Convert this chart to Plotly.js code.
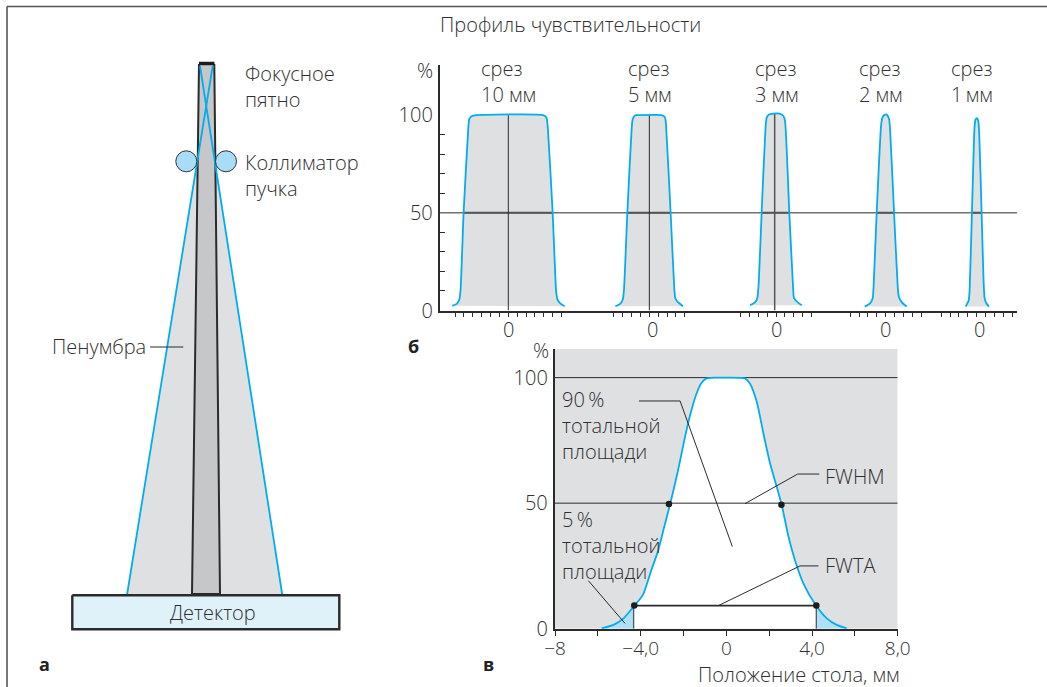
<!DOCTYPE html>
<html><head><meta charset="utf-8">
<script src="https://cdn.plot.ly/plotly-3.0.1.min.js"></script>
<style>html,body{margin:0;padding:0;background:#fff}#c{width:1047px;height:687px}</style>
</head><body><div id="c"></div>
<script>
// ---- Panel а: schematic, values in drawing units ----
const frameX = [7, 7, null, 7, 1047];
const frameY = [687, 6.5, null, 6.5, 6.5];
const penumbraX = [206.3, 127, 282.3];
const penumbraY = [105, 595, 595];
const penumbraTopX = [200, 212.7, 206.3];
const penumbraTopY = [66, 66, 105];
const umbraX = [199, 195.7, 192, 220, 217.3, 214.3];
const umbraY = [64, 340, 594, 594, 340, 64];
const beamAX = [212.7, 127];
const beamAY = [66, 595];
const beamBX = [200, 282.3];
const beamBY = [66, 595];
const focalX = [199, 214.5];
const focalY = [63.5, 63.5];
const collimatorX = [186.3, 226];
const collimatorY = [161.3, 161.3];
const detectorX = [72.3, 339.3, 339.3, 72.3, 72.3];
const detectorY = [595.3, 595.3, 629.3, 629.3, 595.3];
const penumbraLeaderX = [150, 183.3];
const penumbraLeaderY = [347, 347];

// ---- Panel б: slice profiles ----
const sliceLabels = ['10 мм', '5 мм', '3 мм', '2 мм', '1\u2009мм'];
const sliceCenters = [0, 15.9, 30.18, 42.55, 52.8];
const sliceTickSpan = [6, 4, 4, 4, 4];
const sliceZeroLabelMm = [0, 16.23, 30.27, 42.58, 53.13];
const sliceLineCenters = [0, 15.9, 30.03];
const sliceLineTops = [100, 100, 100.8];
const profile10mm = [-6.32,-5.83,-5.53,-5.38,-5.04,-4.5,-4.4,-4.14,-3.65,3.95,4.32,4.47,5,5.38,5.53,5.83,6.35];
const profile10v = [2.4,3.4,5.5,10.6,50,94,98,99.5,100,100,98.5,92.5,50,10.6,5.8,3.8,2.2];
const profile5mm = [-3.83,-3.3,-3.0,-2.86,-2.48,-2,-1.88,-1.58,-1.2,1.39,1.77,1.88,2.4,2.82,2.93,3.23,3.8];
const profile5v = [2.2,3.4,5.5,10.6,50,92.5,98,100,100,100,98.8,95,50,10.6,6.3,4.3,2.2];
const profile3mm = [-2.93,-2.37,-2.11,-1.95,-1.62,-1.17,-1.05,-0.79,-0.3,0.38,0.83,1.02,1.5,1.92,2.03,2.41,2.9];
const profile3v = [2.7,4.1,6.3,14,50,94.4,98.8,100.3,100.8,100.8,99.6,97,50,12.3,6.3,4.3,2.7];
const profile2mm = [-2.37,-1.77,-1.47,-1.35,-1.02,-0.53,-0.38,-0.08,0.11,0.38,0.49,0.94,1.35,1.47,1.8,2.37];
const profile2v = [2,3.7,6.3,14,50,94.4,98.8,100.3,100.3,97.9,92.8,50,12.3,7.2,4.3,2];
const profile1mm = [-1.24,-0.9,-0.79,-0.53,-0.23,-0.11,0.04,0.19,0.3,0.56,0.79,0.9,1.09,1.39];
const profile1v = [2,5.1,10.6,50,94.4,97.9,98.5,97,89.4,50,14,6.3,3.7,2];
const halfMaxLeftMm = [-5.04, -2.48, -1.62, -1.02, -0.53];
const halfMaxRightMm = [5, 2.4, 1.5, 0.94, 0.56];
const panelBYTicks = [0, 50, 100];
const panelBYMinor = [10, 20, 30, 40, 60, 70, 80, 90];

// ---- Panel в: sensitivity profile ----
const tableMm = [-5.82,-5.27,-4.8,-4.29,-3.9,-3.5,-3.2,-2.9,-2.63,-2.27,-1.96,-1.73,-1.42,-1.18,-0.95,-0.56,-0.17,0,0.87,1.1,1.42,1.73,2.04,2.35,2.58,2.9,3.2,3.6,4.19,4.69,5.15,5.62];
const tableV = [0.1,1.5,4.1,9.2,13.4,23.4,30.7,40.6,49.5,62.5,75.2,83.8,93,97.7,99.6,100,100,100,99.7,97.7,90.4,77.8,65.9,56.6,49.5,36.7,27.4,18,9.2,4.1,1.5,0.1];
const tailLeftMm = [-5.82,-5.27,-4.8,-4.29,-4.33,-4.33];
const tailLeftV = [0.1,1.5,4.1,9.2,9.2,0];
const tailRightMm = [4.19,4.69,5.15,5.62,4.19];
const tailRightV = [9.2,4.1,1.5,0.1,0];
const fwhmDotsMm = [-2.68, 2.57];
const fwhmDotsV = [49.7, 49.4];
const fwtaDotsMm = [-4.3, 4.2];
const fwtaDotsV = [9.2, 9.2];
const fwtaLineMm = [-4.3, 4.2];
const fwtaLineV = [9.2, 9.2];
const dropLeftMm = [-4.33, -4.33];
const dropRightMm = [4.2, 4.2];
const dropV = [0, 9.2];
const leader90Mm = [-4.08,-2.16,0.28];
const leader90V = [90.7,90.7,32.7];
const leaderHalfMm = [0.87,3.33,4.34];
const leaderHalfV = [49.8,61.6,61.6];
const leaderFwtaMm = [-0.37,3.44,4.3];
const leaderFwtaV = [9.2,25,25];
const leader5Mm = [-6.44,-4.73];
const leader5V = [19.1,2.1];
const panelCXTicks = [-8,-6,-4,-2,0,2,4,6,8];
const panelCXLabels = ['−8','','−4,0','','0','','4,0','','8,0'];
const panelCYTicks = [0, 50, 100];

const W = 1047, H = 687;
const FONT = '"Open Sans", "Noto Sans", sans-serif';
const INK = '#2f2f30', DARK = '#2b2b2c', BLUE = '#00aeef', GREY = '#dfe0e2', FS = 20;

const base = {showlegend:false, hoverinfo:'skip', mode:'lines'};
const tr = (x, y, ax, opt) => Object.assign({x, y, type:'scatter', xaxis:ax[0], yaxis:ax[1]}, base, opt);
const A = ['x','y'], B = ['x2','y2'], C = ['x3','y3'];
const line = (color, width, extra) => ({line:Object.assign({color, width}, extra||{})});

const traces = [];
// panel а
traces.push(tr(penumbraX, penumbraY, A, {fill:'toself', fillcolor:GREY, line:{width:0}}));
traces.push(tr(penumbraTopX, penumbraTopY, A, {fill:'toself', fillcolor:GREY, line:{width:0}}));
traces.push(tr(umbraX, umbraY, A, Object.assign({fill:'toself', fillcolor:'#c6c7c9'}, line(DARK, 2))));
traces.push(tr(beamAX, beamAY, A, line(BLUE, 1.8)));
traces.push(tr(beamBX, beamBY, A, line(BLUE, 1.8)));
traces.push(tr(focalX, focalY, A, line('#1d1d1d', 3.5)));
traces.push(tr(collimatorX, collimatorY, A, {mode:'markers', marker:{size:21, color:'#a9dcf7', line:{color:'#333', width:1}}}));
traces.push(tr(detectorX, detectorY, A, Object.assign({fill:'toself', fillcolor:'#dff2fa'}, line(DARK, 2.4))));
traces.push(tr(penumbraLeaderX, penumbraLeaderY, A, line(DARK, 1)));
traces.push(tr(frameX, frameY, A, line('#555', 1.6)));

// panel б
const profiles = [[profile10mm,profile10v],[profile5mm,profile5v],[profile3mm,profile3v],[profile2mm,profile2v],[profile1mm,profile1v]];
const shift = (arr, c) => arr.map(v => v + c);
profiles.forEach(([mm, v], i) => {
  traces.push(tr(shift(mm, sliceCenters[i]), v, B, {
    fill:'toself', fillcolor:GREY, line:{width:0, shape:'spline', smoothing:0.5}}));
});
traces.push(tr([-7.7, 57.35], [50, 50], B, line(DARK, 1)));
profiles.forEach(([mm, v], i) => {
  traces.push(tr([halfMaxLeftMm[i]+sliceCenters[i], halfMaxRightMm[i]+sliceCenters[i]], [50, 50], B, line('#555', 2)));
  if (i < 3) traces.push(tr([sliceLineCenters[i], sliceLineCenters[i]], [sliceLineTops[i], 0], B,
    i === 2 ? line('#555', 1.5) : line(DARK, 1)));
  traces.push(tr(shift(mm, sliceCenters[i]), v, B, {line:{color:BLUE, width:1.8, shape:'spline', smoothing:0.5}}));
});

// panel в
traces.push(tr(tableMm, tableV, C, {fill:'toself', fillcolor:'#ffffff', line:{width:0, shape:'spline', smoothing:0.6}}));
traces.push(tr(tailLeftMm, tailLeftV, C, {fill:'toself', fillcolor:'#aee0f8', line:{width:0}}));
traces.push(tr(tailRightMm, tailRightV, C, {fill:'toself', fillcolor:'#aee0f8', line:{width:0}}));
traces.push(tr([-8, 8], [100, 100], C, line(DARK, 1)));
traces.push(tr([-8, 8], [50, 50], C, line(DARK, 1)));
traces.push(tr(tableMm, tableV, C, {line:{color:BLUE, width:1.8, shape:'spline', smoothing:0.6}}));
traces.push(tr(dropLeftMm, dropV, C, line('#555', 1.3)));
traces.push(tr(dropRightMm, dropV, C, line('#555', 1.3)));
traces.push(tr(fwtaLineMm, fwtaLineV, C, line(DARK, 1.8)));
traces.push(tr(leader90Mm, leader90V, C, line(DARK, 1)));
traces.push(tr(leaderHalfMm, leaderHalfV, C, line(DARK, 1)));
traces.push(tr(leaderFwtaMm, leaderFwtaV, C, line(DARK, 1)));
traces.push(tr(leader5Mm, leader5V, C, line(DARK, 1)));
traces.push(tr(fwhmDotsMm, fwhmDotsV, C, {mode:'markers', marker:{size:6.5, color:'#1d1d1d'}}));
traces.push(tr(fwtaDotsMm, fwtaDotsV, C, {mode:'markers', marker:{size:6.5, color:'#1d1d1d'}}));

// text, placed in the drawing units of panel а
const txt = (text, x, y, anchor, o) => Object.assign({
  text, x, y, xref:'x', yref:'y', xanchor:anchor||'left', yanchor:'middle', showarrow:false,
  align:anchor||'left', font:{family:FONT, size:FS, color:INK, weight:300}, borderpad:0
}, o||{});
const bold = {font:{family:FONT, size:18, color:'#222', weight:700}};
const annotations = [
  txt('Профиль чувствительности', 570.5, 24.5, 'center'),
  txt('Фокусное<br>пятно', 244.3, 86.3),
  txt('Коллиматор<br>пучка', 244.3, 175.5),
  txt('Пенумбра', 146.7, 346, 'right'),
  txt('Детектор', 213, 612.7, 'center'),
  txt('а', 44, 664, 'center', bold), txt('б', 413.5, 346, 'center', bold), txt('в', 488, 664, 'center', bold),
  txt('%', 425, 70.5, 'center'),
  txt('%', 540.5, 350.5, 'center'),
  txt('90\u2009%<br>тотальной<br>площади', 561, 425.5),
  txt('5\u2009%<br>тотальной<br>площади', 561, 545.5),
  txt('FWHM', 824.3, 476), txt('FWTA', 824.3, 565),
  txt('Положение стола, мм', 900, 674, 'right')
];
const sliceTextX = [480, 626.7, 754, 858.3, 950];
sliceLabels.forEach((s, i) => {
  annotations.push(txt('срез<br>' + s, sliceTextX[i], 81.1));
  annotations.push(Object.assign(txt('0', sliceZeroLabelMm[i], 329, 'center'), {xref:'x2'}));
});

// x ticks of panel б: one per millimetre around each slice centre
const bTicks = [];
sliceCenters.forEach((c, i) => { for (let k = -sliceTickSpan[i]; k <= sliceTickSpan[i]; k++) bTicks.push(c + k); });

const tickFont = {family:FONT, size:FS, color:INK, weight:300};
const layout = {
  width:W, height:H, margin:{l:0,r:0,t:0,b:0}, paper_bgcolor:'#fff', plot_bgcolor:'rgba(0,0,0,0)',
  showlegend:false, dragmode:false, font:{family:FONT, color:INK},
  xaxis:{domain:[0,1], range:[0,W], visible:false, fixedrange:true, anchor:'y'},
  yaxis:{domain:[0,1], range:[H,0], visible:false, fixedrange:true, anchor:'x'},
  xaxis2:{domain:[440/W,1017/W], range:[-7.7,57.35], anchor:'y2', showgrid:false, zeroline:false,
    showline:true, linecolor:DARK, linewidth:2.2, tickmode:'array', tickvals:bTicks, ticktext:bTicks.map(()=>''),
    ticks:'outside', ticklen:4, tickwidth:1, tickcolor:DARK, fixedrange:true},
  yaxis2:{domain:[1-310.5/H,1-65/H], range:[0,125.7], anchor:'x2', showgrid:false, zeroline:false,
    showline:true, linecolor:DARK, linewidth:2.2, tickmode:'array', tickvals:panelBYTicks, ticktext:panelBYTicks.map(String),
    ticks:'', ticklabelstandoff:1, tickfont:tickFont, fixedrange:true,
    minor:{tickmode:'array', tickvals:panelBYMinor, ticks:'inside', ticklen:5, tickwidth:1, tickcolor:DARK}},
  xaxis3:{domain:[555/W,897.7/W], range:[-8,8], anchor:'y3', showgrid:false, zeroline:false,
    showline:true, linecolor:DARK, linewidth:2.2, tickmode:'array', tickvals:panelCXTicks, ticktext:panelCXLabels,
    ticks:'outside', ticklen:5, tickwidth:1, tickcolor:DARK, tickfont:Object.assign({}, tickFont, {size:19}), tickangle:0, ticklabelstandoff:-4, fixedrange:true},
  yaxis3:{domain:[1-628.7/H,1-349/H], range:[0,111.4], anchor:'x3', showgrid:false, zeroline:false,
    showline:true, linecolor:DARK, linewidth:2.2, tickmode:'array', tickvals:panelCYTicks, ticktext:panelCYTicks.map(String),
    ticks:'', ticklabelstandoff:1, tickfont:tickFont, fixedrange:true},
  shapes:[{type:'rect', xref:'x3', yref:'y3', x0:-8, x1:8, y0:0, y1:111.4, fillcolor:GREY, line:{width:0}, layer:'below'}],
  annotations
};
Plotly.newPlot('c', traces, layout, {displayModeBar:false, staticPlot:true});
</script></body></html>
